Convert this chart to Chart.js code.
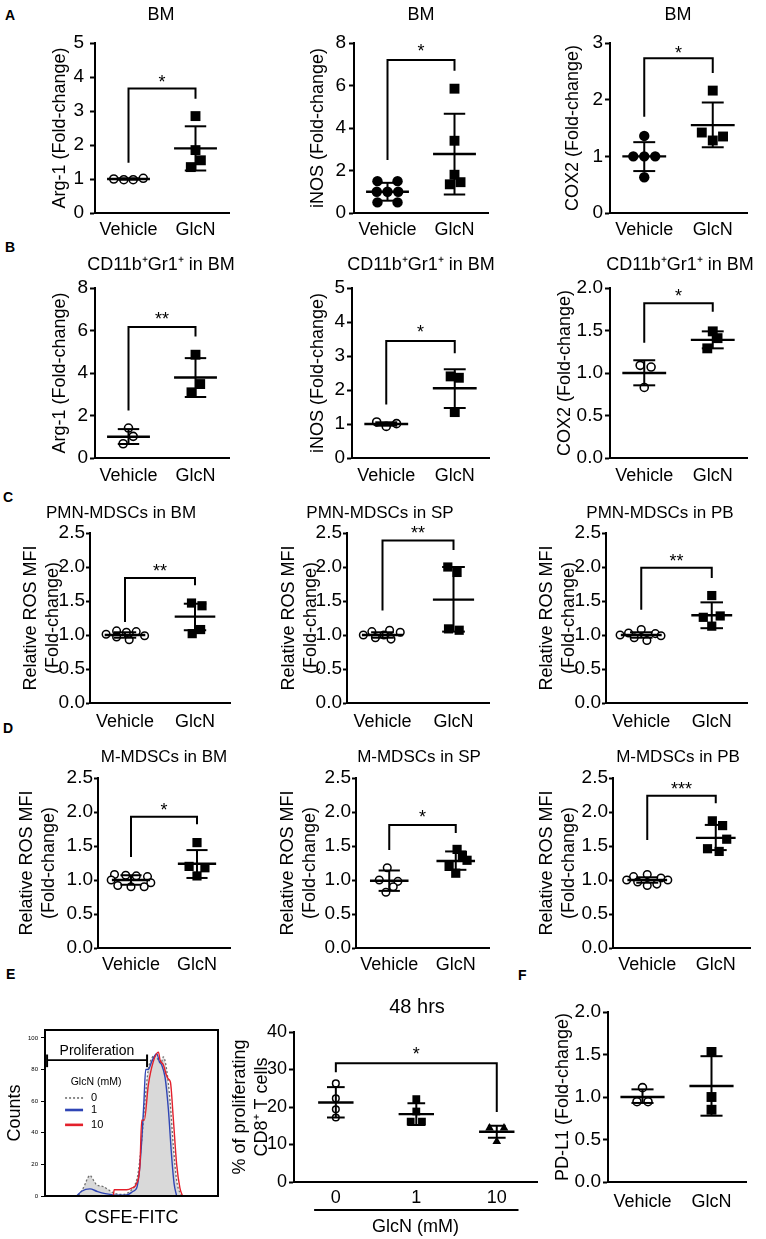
<!DOCTYPE html>
<html>
<head>
<meta charset="utf-8">
<title>GlcN MDSC figure</title>
<script src="https://cdn.jsdelivr.net/npm/chart.js@4.4.1/dist/chart.umd.min.js"></script>
<style>
html,body{margin:0;padding:0;background:#fff}
body{position:relative;width:766px;height:1239px;overflow:hidden;font-family:'Liberation Sans',Arial,sans-serif}
.plet{position:absolute;font-weight:bold;font-size:14px;line-height:14px;color:#000}
.cbox{position:absolute}
</style>
</head>
<body>
<div class="plet" style="left:5px;top:8px">A</div>
<div class="plet" style="left:5px;top:240px">B</div>
<div class="plet" style="left:3px;top:490px">C</div>
<div class="plet" style="left:3px;top:721px">D</div>
<div class="plet" style="left:6px;top:967px">E</div>
<div class="plet" style="left:518px;top:968px">F</div>
<script>
const FONT = "'Liberation Sans', Arial, Helvetica, sans-serif";
Chart.defaults.font.family = FONT;
Chart.defaults.color = '#000';

// ---------- categories / tick labels ----------
const groups2 = ['Vehicle', 'GlcN'];
const cats2 = [1, 2];
const groupsE = ['0', '1', '10'];
const catsE = [0, 1, 2];

// ---------- Panel A (BM) ----------
const a1VehY = [1.00, 0.98, 0.98, 1.02];
const a1VehX = [-0.22, -0.07, 0.07, 0.22];
const a1GlcY = [2.85, 1.85, 1.55, 1.35];
const a1GlcX = [0, 0, 0.08, -0.07];
const a1Mean = [1.00, 1.90];
const a1Hi = [1.02, 2.55];
const a1Lo = [0.98, 1.25];
const a1Sig = [1, 2, 3.66, 1.48, 3.36, '*', 3.97];

const a2VehY = [1.5, 1.5, 1.0, 1.0, 1.0, 0.5, 0.5];
const a2VehX = [-0.15, 0.15, -0.16, 0, 0.16, -0.15, 0.15];
const a2GlcY = [5.85, 3.4, 1.8, 1.45, 1.35];
const a2GlcX = [0, 0, 0, 0.09, -0.07];
const a2Mean = [1.0, 2.78];
const a2Hi = [1.42, 4.67];
const a2Lo = [0.58, 0.87];
const a2Sig = [1, 2, 7.2, 2.5, 6.7, '*', 7.84];

const a3VehY = [1.36, 1.0, 1.0, 1.0, 0.63];
const a3VehX = [0, -0.16, 0, 0.16, 0];
const a3GlcY = [2.16, 1.42, 1.35, 1.28];
const a3GlcX = [0, -0.16, 0.15, 0];
const a3Mean = [1.0, 1.55];
const a3Hi = [1.25, 1.95];
const a3Lo = [0.74, 1.16];
const a3Sig = [1, 2, 2.73, 1.7, 2.47, '*', 2.91];

// ---------- Panel B (CD11b+Gr1+ in BM) ----------
const b1VehY = [1.41, 1.02, 0.67];
const b1VehX = [0, 0.07, -0.08];
const b1GlcY = [4.86, 3.48, 3.09];
const b1GlcX = [0, 0.07, -0.06];
const b1Mean = [1.0, 3.79];
const b1Hi = [1.36, 4.7];
const b1Lo = [0.66, 2.87];
const b1Sig = [1, 2, 6.16, 2.24, 5.72, '**', 6.74];

const b2VehY = [1.06, 0.93, 1.01];
const b2VehX = [-0.14, 0, 0.15];
const b2GlcY = [2.40, 2.36, 1.35];
const b2GlcX = [-0.06, 0.06, 0];
const b2Mean = [1.0, 2.05];
const b2Hi = [1.05, 2.61];
const b2Lo = [0.95, 1.47];
const b2Sig = [1, 2, 3.44, 1.57, 3.08, '*', 3.85];

const b3VehY = [1.09, 1.07, 0.83];
const b3VehX = [-0.06, 0.1, 0];
const b3GlcY = [1.49, 1.41, 1.29];
const b3GlcX = [0, 0.07, -0.08];
const b3Mean = [1.0, 1.39];
const b3Hi = [1.15, 1.49];
const b3Lo = [0.855, 1.29];
const b3Sig = [1, 2, 1.82, 1.355, 1.72, '*', 1.96];

// ---------- Panel C (PMN-MDSCs) ----------
const c1VehY = [1.06, 1.04, 1.05, 1.01, 0.99, 0.97, 0.93];
const c1VehX = [-0.12, 0.02, 0.16, -0.27, 0.28, -0.12, 0.06];
const c1GlcY = [1.47, 1.43, 1.08, 1.02];
const c1GlcX = [-0.05, 0.1, 0.08, -0.04];
const c1Mean = [1.0, 1.27];
const c1Hi = [1.04, 1.46];
const c1Lo = [0.96, 1.07];
const c1Sig = [1, 2, 1.84, 1.19, 1.73, '**', 2.0];

const c2VehY = [1.07, 1.05, 1.04, 1.0, 1.0, 0.96, 0.94];
const c2VehX = [0.1, -0.15, 0.25, -0.27, 0.02, -0.1, 0.12];
const c2GlcY = [2.0, 1.92, 1.09, 1.07];
const c2GlcX = [-0.08, 0.05, -0.07, 0.08];
const c2Mean = [1.0, 1.52];
const c2Hi = [1.04, 2.0];
const c2Lo = [0.96, 1.05];
const c2Sig = [1, 2, 2.39, 1.36, 2.25, '**', 2.56];

const c3VehY = [1.08, 1.03, 1.02, 1.0, 0.99, 0.96, 0.92];
const c3VehX = [0, -0.18, 0.2, -0.3, 0.28, -0.1, 0.08];
const c3GlcY = [1.58, 1.28, 1.26, 1.13];
const c3GlcX = [0, 0.12, -0.12, 0];
const c3Mean = [1.0, 1.29];
const c3Hi = [1.04, 1.48];
const c3Lo = [0.96, 1.1];
const c3Sig = [1, 2, 1.99, 1.37, 1.84, '**', 2.15];

// ---------- Panel D (M-MDSCs) ----------
const d1VehY = [1.08, 1.07, 1.06, 1.05, 1.0, 0.96, 0.92, 0.9, 0.9];
const d1VehX = [-0.25, -0.08, 0.08, 0.25, -0.3, 0.3, -0.2, 0, 0.2];
const d1GlcY = [1.55, 1.2, 1.18, 1.06];
const d1GlcX = [0, -0.12, 0.12, 0];
const d1Mean = [1.0, 1.24];
const d1Hi = [1.07, 1.44];
const d1Lo = [0.93, 1.03];
const d1Sig = [1, 2, 1.93, 1.34, 1.82, '*', 2.09];

const d2VehY = [1.18, 1.0, 0.98, 0.9, 0.82];
const d2VehX = [-0.03, -0.15, 0.13, 0.06, -0.05];
const d2GlcY = [1.45, 1.36, 1.29, 1.2, 1.1];
const d2GlcX = [0.02, 0.1, 0.17, -0.1, 0];
const d2Mean = [0.99, 1.28];
const d2Hi = [1.14, 1.42];
const d2Lo = [0.84, 1.15];
const d2Sig = [1, 2, 1.81, 1.44, 1.69, '*', 1.99];

const d3VehY = [1.08, 1.05, 1.03, 1.0, 1.0, 0.97, 0.94, 0.92];
const d3VehX = [0, -0.2, 0.2, -0.3, 0.3, -0.14, 0.14, 0];
const d3GlcY = [1.87, 1.8, 1.6, 1.46, 1.42];
const d3GlcX = [-0.05, 0.1, 0.16, -0.12, 0.05];
const d3Mean = [1.0, 1.62];
const d3Hi = [1.04, 1.81];
const d3Lo = [0.96, 1.44];
const d3Sig = [1, 2, 2.24, 1.59, 2.13, '***', 2.41];

// ---------- Panel E: CFSE histogram ----------
const h0X = [170, 183, 221, 260, 280, 299, 337, 366, 405, 453, 491, 520, 539, 559, 578, 597, 617, 636, 655, 670, 684, 703, 723, 743, 761, 780, 799, 820];
const h0Y = [0, 0, 5, 13, 10, 7, 6, 4, 1.5, 1, 3, 7, 15, 35, 60, 80, 87, 89, 86, 84, 88, 80, 60, 30, 10, 2, 0, 0];
const h1X = [183, 212, 260, 299, 328, 376, 414, 462, 482, 510, 530, 545, 559, 572, 582, 597, 617, 646, 661, 674, 694, 713, 732, 746, 761];
const h1Y = [0, 3, 4.5, 3, 2, 1, 0.5, 0.5, 1, 3, 5, 15, 35, 60, 80, 80, 85, 90, 85, 83, 75, 55, 25, 8, 0];
const h10X = [395, 400, 424, 472, 501, 530, 549, 559, 574, 597, 626, 656, 665, 684, 703, 713, 725, 741, 761, 780, 795];
const h10Y = [0, 4, 4, 4, 5, 8, 20, 48, 48, 70, 85, 91, 86, 83, 76, 74, 72, 50, 20, 5, 0];

// ---------- Panel E: % proliferating CD8+ T cells (48 hrs) ----------
const e0Y = [26.3, 22.3, 19.4, 17.2];
const e0X = [0, 0, 0, 0];
const e1Y = [22.1, 18.8, 16.1, 16.1];
const e1X = [0, 0, -0.07, 0.07];
const e10Y = [14.4, 14.4, 10.8];
const e10X = [-0.09, 0.09, 0];
const eMean = [21.2, 18.1, 13.4];
const eHi = [25.3, 21.0, 15.0];
const eLo = [17.2, 15.2, 11.8];
const eSig = [0, 2, 31.7, 29.3, 18.7, '*', 35.2];

// ---------- Panel F: PD-L1 ----------
const fVehY = [1.11, 0.945, 0.945];
const fVehX = [0, -0.08, 0.08];
const fGlcY = [1.53, 1.0, 0.85];
const fGlcX = [0, 0, 0];
const fMean = [1.0, 1.13];
const fHi = [1.09, 1.48];
const fLo = [0.93, 0.78];

// ---------- marker styles ----------
const openC = {style: 'circle', r: 4, fill: '#fff', bw: 1.6};
const fillC = {style: 'circle', r: 5.2, fill: '#000', bw: 0};
const sq = {style: 'rect', r: 7, fill: '#000', bw: 0};
const openCs = {style: 'circle', r: 3.8, fill: '#fff', bw: 1.5};
const sqs = {style: 'rect', r: 6.5, fill: '#000', bw: 0};
const openE = {style: 'circle', r: 3.3, fill: '#fff', bw: 1.5};
const sqE = {style: 'rect', r: 5.5, fill: '#000', bw: 0};
const triE = {style: 'triangle', r: 5, fill: '#000', bw: 0};

const int0 = v => String(v);
const dec1 = v => Number(v).toFixed(1);

// ---------- plugins ----------
const annot = {
  id: 'annot',
  afterDraw(chart, args, o) {
    const ctx = chart.ctx, xs = chart.scales.x, ys = chart.scales.y;
    const X = v => xs.getPixelForValue(v), Y = v => ys.getPixelForValue(v);
    ctx.save();
    ctx.strokeStyle = '#000'; ctx.fillStyle = '#000'; ctx.lineCap = 'butt';
    const seg = (x1, y1, x2, y2, w) => { ctx.lineWidth = w; ctx.beginPath(); ctx.moveTo(x1, y1); ctx.lineTo(x2, y2); ctx.stroke(); };
    if (o.means) o.means.forEach((m, i) => {
      const c = o.cats[i];
      seg(X(c - o.meanHW), Y(m), X(c + o.meanHW), Y(m), 2.4);
      seg(X(c), Y(o.hi[i]), X(c), Y(o.lo[i]), 2);
      seg(X(c - o.capHW), Y(o.hi[i]), X(c + o.capHW), Y(o.hi[i]), 2);
      seg(X(c - o.capHW), Y(o.lo[i]), X(c + o.capHW), Y(o.lo[i]), 2);
    });
    if (o.sig) {
      const [a, b, top, la, rb, txt, sy] = o.sig;
      ctx.lineWidth = 2; ctx.lineJoin = 'miter';
      ctx.beginPath(); ctx.moveTo(X(a), Y(la)); ctx.lineTo(X(a), Y(top)); ctx.lineTo(X(b), Y(top)); ctx.lineTo(X(b), Y(rb)); ctx.stroke();
      ctx.font = o.starSize + 'px ' + FONT; ctx.textAlign = 'center'; ctx.textBaseline = 'alphabetic';
      ctx.fillText(txt, (X(a) + X(b)) / 2, Y(sy) + 0.58 * o.starSize);
    }
    if (o.title) {
      ctx.font = o.titleSize + 'px ' + FONT; ctx.textAlign = 'center'; ctx.textBaseline = 'middle';
      ctx.fillText(o.title, o.titleX, o.titleY);
    }
    if (o.underline) seg(X(o.underline[0]), o.underline[2], X(o.underline[1]), o.underline[2], 1.8);
    ctx.restore();
  }
};

const histDeco = {
  id: 'histDeco',
  afterDraw(chart, args, o) {
    const {ctx, chartArea: a} = chart;
    const X = v => chart.scales.x.getPixelForValue(v), Y = v => chart.scales.y.getPixelForValue(v);
    ctx.save();
    ctx.strokeStyle = '#000'; ctx.fillStyle = '#000';
    ctx.lineWidth = 2; ctx.strokeRect(a.left, a.top, a.right - a.left, a.bottom - a.top);
    const [g1, g2, gy] = o.gate;
    ctx.lineWidth = 1.8;
    ctx.beginPath(); ctx.moveTo(X(g1), Y(gy)); ctx.lineTo(X(g2), Y(gy)); ctx.stroke();
    ctx.lineWidth = 2;
    [g1, g2].forEach(g => { ctx.beginPath(); ctx.moveTo(X(g), Y(gy + 3.5)); ctx.lineTo(X(g), Y(gy - 4.5)); ctx.stroke(); });
    ctx.font = '14px ' + FONT; ctx.textAlign = 'center'; ctx.textBaseline = 'middle';
    ctx.fillText(o.gateLabel, X(o.gateText[0]), Y(o.gateText[1]));
    ctx.font = '10.5px ' + FONT;
    ctx.fillText(o.legTitle, X(o.legTitlePos[0]), Y(o.legTitlePos[1]));
    ctx.textAlign = 'left'; ctx.font = '11px ' + FONT;
    chart.data.datasets.forEach((ds, i) => {
      const yy = Y(o.legY[i]);
      ctx.save(); ctx.strokeStyle = ds.borderColor; ctx.lineWidth = o.legW[i]; ctx.setLineDash(ds.borderDash || []);
      ctx.beginPath(); ctx.moveTo(X(o.legX[0]), yy); ctx.lineTo(X(o.legX[1]), yy); ctx.stroke(); ctx.restore();
      ctx.fillText(ds.label, X(o.legX[2]), yy);
    });
    ctx.restore();
  }
};

// ---------- helpers ----------
function makeBox(id, box) {
  const d = document.createElement('div');
  d.className = 'cbox';
  d.style.left = box[0] + 'px'; d.style.top = box[1] + 'px';
  d.style.width = box[2] + 'px'; d.style.height = box[3] + 'px';
  const c = document.createElement('canvas');
  c.id = id; d.appendChild(c); document.body.appendChild(d);
  return c;
}

function dotPlot(c) {
  const [bx, by, bw, bh] = c.box;
  const [L, T, R, B] = c.area;
  const cats = c.cats || cats2, labels = c.labels || groups2;
  const tickSize = c.tickSize || 19, labSize = c.labSize || 18, ytSize = 18;
  const datasets = c.groups.map((g, gi) => ({
    data: g.y.map((v, i) => ({x: cats[gi] + g.x[i], y: v})),
    pointStyle: g.m.style, pointRotation: g.m.rot || 0, pointRadius: g.m.r, pointHoverRadius: g.m.r,
    pointBackgroundColor: g.m.fill, pointBorderColor: '#000', pointBorderWidth: g.m.bw
  }));
  const xTitle = c.xTitle ? {display: true, text: c.xTitle, font: {family: FONT, size: 18}, color: '#000',
      padding: {top: 0, bottom: (by + bh) - c.xTitleY - 18 * 0.6}} : {display: false};
  return new Chart(makeBox(c.id, c.box), {
    type: 'scatter',
    data: {datasets},
    options: {
      responsive: true, maintainAspectRatio: false, animation: false, events: [],
      layout: {padding: {left: 0, top: T - by, right: bx + bw - R, bottom: 0}},
      plugins: {
        legend: {display: false}, tooltip: {enabled: false},
        annot: {cats, means: c.mean, hi: c.hi, lo: c.lo, meanHW: c.meanHW || 0.32, capHW: c.capHW || 0.16,
          sig: c.sig, starSize: 18, title: c.title, titleX: (c.titleX || 0) - bx, titleY: (c.titleY || 0) - by,
          titleSize: c.titleSize || 18, underline: c.underline ? [c.underline[0], c.underline[1], c.underline[2] - by] : null}
      },
      scales: {
        x: {type: 'linear', min: c.xMin ?? 0.5, max: c.xMax ?? 2.5,
          afterBuildTicks: s => { s.ticks = cats.map(v => ({value: v})); },
          afterFit: s => { s.height = by + bh - B; },
          ticks: {callback: (v, i) => labels[i], font: {family: FONT, size: labSize}, color: '#000',
            padding: c.labelY - B - labSize * 0.6, maxRotation: 0, autoSkip: false},
          grid: {display: false, drawTicks: false},
          border: {display: true, color: '#000', width: 2},
          title: xTitle},
        y: {min: c.yMin, max: c.yMax,
          afterFit: s => { s.width = L - bx; },
          ticks: {stepSize: c.yStep, callback: c.yFmt, font: {family: FONT, size: tickSize}, color: '#000', padding: c.yPad ?? 2},
          grid: {display: true, drawOnChartArea: false, drawTicks: true, tickLength: c.tickLen || 5, tickWidth: 2, tickColor: '#000'},
          border: {display: true, color: '#000', width: 2},
          title: {display: true, text: c.yTitle, font: {family: FONT, size: ytSize}, color: '#000',
            padding: {top: c.yTitleX - bx - ytSize * 0.6, bottom: 0}}}
      }
    },
    plugins: [annot]
  });
}

// ---------- Row A ----------
dotPlot({id: 'a1', box: [0, 0, 250, 240], area: [95, 43, 229, 213], yMin: 0, yMax: 5, yStep: 1, yFmt: int0, yPad: 6,
  yTitle: 'Arg-1 (Fold-change)', yTitleX: 60, labelY: 230, title: 'BM', titleX: 161, titleY: 15,
  groups: [{y: a1VehY, x: a1VehX, m: openC}, {y: a1GlcY, x: a1GlcX, m: sq}], mean: a1Mean, hi: a1Hi, lo: a1Lo, sig: a1Sig});
dotPlot({id: 'a2', box: [250, 0, 255, 240], area: [354, 43, 488, 213], yMin: 0, yMax: 8, yStep: 2, yFmt: int0, yPad: 3,
  yTitle: 'iNOS (Fold-change)', yTitleX: 318, labelY: 230, title: 'BM', titleX: 421, titleY: 15,
  groups: [{y: a2VehY, x: a2VehX, m: fillC}, {y: a2GlcY, x: a2GlcX, m: sq}], mean: a2Mean, hi: a2Hi, lo: a2Lo, sig: a2Sig});
dotPlot({id: 'a3', box: [505, 0, 261, 240], area: [610, 43, 747, 213], yMin: 0, yMax: 3, yStep: 1, yFmt: int0, yPad: 2,
  yTitle: 'COX2 (Fold-change)', yTitleX: 573, labelY: 230, title: 'BM', titleX: 678, titleY: 15,
  groups: [{y: a3VehY, x: a3VehX, m: fillC}, {y: a3GlcY, x: a3GlcX, m: sq}], mean: a3Mean, hi: a3Hi, lo: a3Lo, sig: a3Sig});

// ---------- Row B ----------
dotPlot({id: 'b1', box: [0, 240, 250, 245], area: [95, 288, 229, 458], yMin: 0, yMax: 8, yStep: 2, yFmt: int0, yPad: 2,
  yTitle: 'Arg-1 (Fold-change)', yTitleX: 60, labelY: 476, title: 'CD11b\u207AGr1\u207A in BM', titleX: 161, titleY: 265,
  groups: [{y: b1VehY, x: b1VehX, m: openC}, {y: b1GlcY, x: b1GlcX, m: sq}], mean: b1Mean, hi: b1Hi, lo: b1Lo, sig: b1Sig});
dotPlot({id: 'b2', box: [250, 240, 255, 245], area: [352, 288, 489, 458], yMin: 0, yMax: 5, yStep: 1, yFmt: int0, yPad: 2,
  yTitle: 'iNOS (Fold-change)', yTitleX: 318, labelY: 476, title: 'CD11b\u207AGr1\u207A in BM', titleX: 421, titleY: 265,
  groups: [{y: b2VehY, x: b2VehX, m: openC}, {y: b2GlcY, x: b2GlcX, m: sq}], mean: b2Mean, hi: b2Hi, lo: b2Lo, sig: b2Sig});
dotPlot({id: 'b3', box: [505, 240, 261, 245], area: [610, 288, 747, 458], yMin: 0, yMax: 2, yStep: 0.5, yFmt: dec1, yPad: 2,
  yTitle: 'COX2 (Fold-change)', yTitleX: 565, labelY: 476, title: 'CD11b\u207AGr1\u207A in BM', titleX: 680, titleY: 265,
  groups: [{y: b3VehY, x: b3VehX, m: openC}, {y: b3GlcY, x: b3GlcX, m: sq}], mean: b3Mean, hi: b3Hi, lo: b3Lo, sig: b3Sig});

// ---------- Row C ----------
const rosTitle = ['Relative ROS MFI', '(Fold-change)'];
dotPlot({id: 'c1', box: [0, 485, 250, 245], area: [90, 533, 230, 703], yMin: 0, yMax: 2.5, yStep: 0.5, yFmt: dec1, yPad: 1, tickLen: 4,
  yTitle: rosTitle, yTitleX: 31, labelY: 722, title: 'PMN-MDSCs in BM', titleX: 121, titleY: 513, titleSize: 17, meanHW: 0.29,
  groups: [{y: c1VehY, x: c1VehX, m: openCs}, {y: c1GlcY, x: c1GlcX, m: sqs}], mean: c1Mean, hi: c1Hi, lo: c1Lo, sig: c1Sig});
dotPlot({id: 'c2', box: [250, 485, 255, 245], area: [347, 533, 489, 703], yMin: 0, yMax: 2.5, yStep: 0.5, yFmt: dec1, yPad: 1, tickLen: 4,
  yTitle: rosTitle, yTitleX: 289, labelY: 722, title: 'PMN-MDSCs in SP', titleX: 380, titleY: 513, titleSize: 17, meanHW: 0.29,
  groups: [{y: c2VehY, x: c2VehX, m: openCs}, {y: c2GlcY, x: c2GlcX, m: sqs}], mean: c2Mean, hi: c2Hi, lo: c2Lo, sig: c2Sig});
dotPlot({id: 'c3', box: [505, 485, 261, 245], area: [606, 533, 747, 703], yMin: 0, yMax: 2.5, yStep: 0.5, yFmt: dec1, yPad: 1, tickLen: 4,
  yTitle: rosTitle, yTitleX: 547, labelY: 722, title: 'PMN-MDSCs in PB', titleX: 660, titleY: 513, titleSize: 17, meanHW: 0.29,
  groups: [{y: c3VehY, x: c3VehX, m: openCs}, {y: c3GlcY, x: c3GlcX, m: sqs}], mean: c3Mean, hi: c3Hi, lo: c3Lo, sig: c3Sig});

// ---------- Row D ----------
dotPlot({id: 'd1', box: [0, 730, 250, 245], area: [98, 778, 230, 948], yMin: 0, yMax: 2.5, yStep: 0.5, yFmt: dec1, yPad: 1, tickLen: 4,
  yTitle: rosTitle, yTitleX: 27, labelY: 965, title: 'M-MDSCs in BM', titleX: 164, titleY: 757, titleSize: 17, meanHW: 0.29,
  groups: [{y: d1VehY, x: d1VehX, m: openCs}, {y: d1GlcY, x: d1GlcX, m: sqs}], mean: d1Mean, hi: d1Hi, lo: d1Lo, sig: d1Sig});
dotPlot({id: 'd2', box: [250, 730, 255, 245], area: [356, 778, 489, 948], yMin: 0, yMax: 2.5, yStep: 0.5, yFmt: dec1, yPad: 1, tickLen: 4,
  yTitle: rosTitle, yTitleX: 288, labelY: 965, title: 'M-MDSCs in SP', titleX: 419, titleY: 757, titleSize: 17, meanHW: 0.29,
  groups: [{y: d2VehY, x: d2VehX, m: openCs}, {y: d2GlcY, x: d2GlcX, m: sqs}], mean: d2Mean, hi: d2Hi, lo: d2Lo, sig: d2Sig});
dotPlot({id: 'd3', box: [505, 730, 261, 245], area: [613, 778, 750, 948], yMin: 0, yMax: 2.5, yStep: 0.5, yFmt: dec1, yPad: 1, tickLen: 4,
  yTitle: rosTitle, yTitleX: 547, labelY: 965, title: 'M-MDSCs in PB', titleX: 678, titleY: 757, titleSize: 17, meanHW: 0.29,
  groups: [{y: d3VehY, x: d3VehX, m: openCs}, {y: d3GlcY, x: d3GlcX, m: sqs}], mean: d3Mean, hi: d3Hi, lo: d3Lo, sig: d3Sig});

// ---------- Row E: histogram ----------
(function histPlot() {
  const box = [0, 975, 250, 264];
  const [L, T, R, B] = [45, 1030, 218, 1196];
  const [bx, by, bw, bh] = box;
  const pts = (xs, ys) => xs.map((x, i) => ({x, y: ys[i]}));
  new Chart(makeBox('e1', box), {
    type: 'line',
    data: {datasets: [
      {label: '0', data: pts(h0X, h0Y), borderColor: '#6e6e6e', borderWidth: 1.3, borderDash: [2, 2], backgroundColor: '#d9d9d9',
        fill: 'origin', pointRadius: 0, cubicInterpolationMode: 'monotone', order: 3},
      {label: '1', data: pts(h1X, h1Y), borderColor: '#2f45b5', borderWidth: 1.4, fill: false, pointRadius: 0,
        cubicInterpolationMode: 'monotone', order: 2},
      {label: '10', data: pts(h10X, h10Y), borderColor: '#e3202b', borderWidth: 1.4, fill: false, pointRadius: 0,
        cubicInterpolationMode: 'monotone', order: 1}
    ]},
    options: {
      responsive: true, maintainAspectRatio: false, animation: false, events: [],
      layout: {padding: {left: 0, top: T - by, right: bx + bw - R, bottom: 0}},
      plugins: {legend: {display: false}, tooltip: {enabled: false},
        histDeco: {gate: [12, 590, 86], gateLabel: 'Proliferation', gateText: [300, 91.5],
          legTitle: 'GlcN (mM)', legTitlePos: [295, 72], legY: [62, 54.4, 45], legX: [116, 220, 266], legW: [1.6, 2.6, 2.6]}},
      scales: {
        x: {type: 'linear', min: 0, max: 1000,
          afterFit: s => { s.height = by + bh - B; },
          ticks: {display: false}, grid: {display: false, drawTicks: false},
          border: {display: true, color: '#000', width: 2},
          title: {display: true, text: 'CSFE-FITC', font: {family: FONT, size: 18}, color: '#000', padding: {top: 0, bottom: by + bh - 1218 - 10.8}}},
        y: {min: 0, max: 105,
          afterBuildTicks: s => { s.ticks = s.ticks.filter(t => t.value <= 100); },
          afterFit: s => { s.width = L - bx; },
          ticks: {stepSize: 20, font: {family: FONT, size: 6}, color: '#000', padding: 3},
          grid: {display: true, drawOnChartArea: false, drawTicks: true, tickLength: 4, tickWidth: 1, tickColor: '#000'},
          border: {display: true, color: '#000', width: 2},
          title: {display: true, text: 'Counts', font: {family: FONT, size: 18}, color: '#000', padding: {top: 15 - bx - 10.8, bottom: 0}}}
      }
    },
    plugins: [histDeco]
  });
})();

// ---------- Row E: 48 hrs ----------
dotPlot({id: 'e2', box: [220, 975, 340, 264], area: [294, 1032, 537, 1182], yMin: 0, yMax: 40, yStep: 10, yFmt: int0, yPad: 2,
  xMin: -0.52, xMax: 2.5, cats: catsE, labels: groupsE, tickSize: 18, labSize: 18,
  yTitle: ['% of proliferating', 'CD8\u207A T cells'], yTitleX: 240, labelY: 1198,
  xTitle: 'GlcN (mM)', xTitleY: 1227, underline: [-0.27, 2.27, 1210],
  title: '48 hrs', titleX: 417, titleY: 1007, titleSize: 20, meanHW: 0.22, capHW: 0.11,
  groups: [{y: e0Y, x: e0X, m: openE}, {y: e1Y, x: e1X, m: sqE}, {y: e10Y, x: e10X, m: triE}],
  mean: eMean, hi: eHi, lo: eLo, sig: eSig});

// ---------- Row E: F PD-L1 ----------
dotPlot({id: 'f1', box: [505, 975, 261, 264], area: [608, 1012, 746, 1182], yMin: 0, yMax: 2, yStep: 0.5, yFmt: dec1, yPad: 2,
  yTitle: 'PD-L1 (Fold-change)', yTitleX: 563, labelY: 1202,
  groups: [{y: fVehY, x: fVehX, m: openC}, {y: fGlcY, x: fGlcX, m: sq}], mean: fMean, hi: fHi, lo: fLo});
</script>
</body>
</html>
